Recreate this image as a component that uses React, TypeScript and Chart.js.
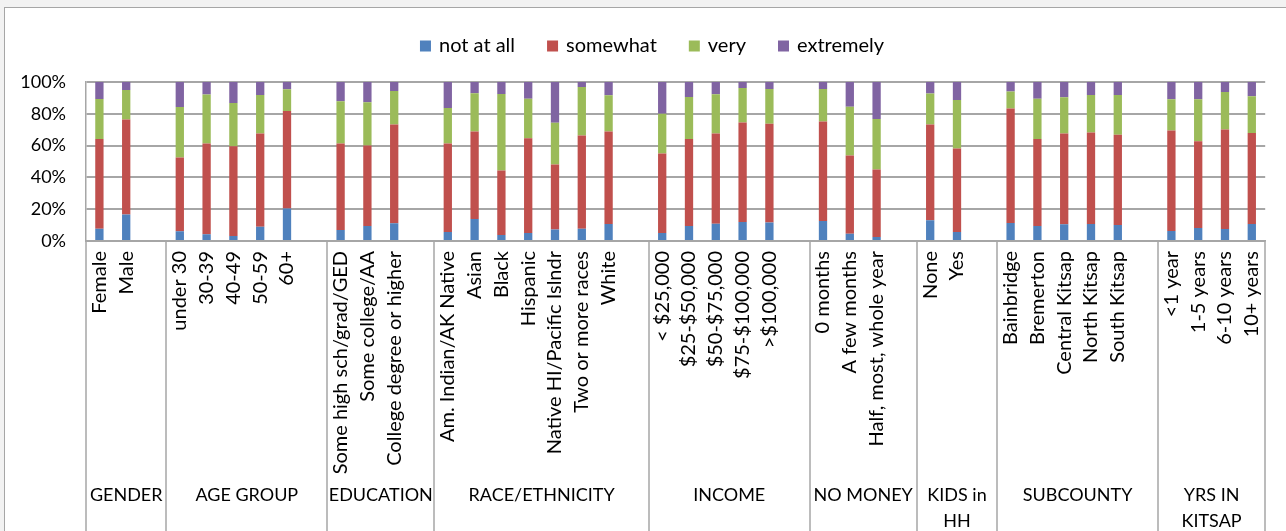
import React, { useEffect, useRef } from 'react';
import { Chart, registerables } from 'chart.js';

Chart.register(...registerables);

// ---------- data ----------
const categories: string[] = [
  'Female', 'Male', '',
  'under 30', '30-39', '40-49', '50-59', '60+', '',
  'Some high sch/grad/GED', 'Some college/AA', 'College degree or higher', '',
  'Am. Indian/AK Native', 'Asian', 'Black', 'Hispanic', 'Native HI/Pacific Islndr', 'Two or more races', 'White', '',
  '< $25,000', '$25-$50,000', '$50-$75,000', '$75-$100,000', '>$100,000', '',
  '0 months', 'A few months', 'Half, most, whole year', '',
  'None', 'Yes', '',
  'Bainbridge', 'Bremerton', 'Central Kitsap', 'North Kitsap', 'South Kitsap', '',
  '<1 year', '1-5 years', '6-10 years', '10+ years',
];

const groupNames: string[][] = [
  ['GENDER'], ['AGE GROUP'], ['EDUCATION'], ['RACE/ETHNICITY'], ['INCOME'],
  ['NO MONEY'], ['KIDS in', 'HH'], ['SUBCOUNTY'], ['YRS IN', 'KITSAP'],
];
const groupSizes: number[] = [3, 6, 4, 8, 6, 4, 3, 6, 4];

const seriesNames: string[] = ['not at all', 'somewhat', 'very', 'extremely'];

const notAtAll: (number | null)[] = [
  7.7, 16.7, null,
  6.1, 4.2, 3.1, 9.0, 20.5, null,
  6.9, 9.4, 11.1, null,
  5.6, 13.8, 3.8, 5.0, 7.3, 7.7, 10.7, null,
  5.0, 9.4, 10.9, 11.9, 11.7, null,
  12.6, 4.6, 2.5, null,
  13.0, 5.6, null,
  11.3, 9.4, 10.5, 10.7, 10.0, null,
  6.3, 8.2, 7.5, 10.7,
];
const somewhat: (number | null)[] = [
  56.5, 59.7, null,
  46.4, 57.1, 56.5, 58.6, 61.3, null,
  54.4, 50.6, 62.1, null,
  55.7, 55.0, 40.6, 59.6, 40.8, 58.6, 58.1, null,
  50.0, 54.8, 56.7, 62.6, 62.1, null,
  62.5, 49.2, 42.5, null,
  60.2, 52.6, null,
  72.0, 54.8, 57.1, 57.5, 56.9, null,
  63.2, 54.6, 62.6, 57.3,
];
const very: (number | null)[] = [
  25.1, 18.6, null,
  31.8, 30.8, 27.2, 24.2, 13.6, null,
  26.6, 27.2, 21.2, null,
  22.4, 24.1, 48.1, 24.9, 26.2, 30.6, 22.8, null,
  25.1, 26.4, 24.7, 21.7, 21.8, null,
  20.5, 30.7, 31.8, null,
  19.5, 30.5, null,
  10.8, 25.3, 22.8, 23.6, 24.9, null,
  19.6, 26.3, 23.6, 23.0,
];
const extremely: (number | null)[] = [
  10.7, 5.0, null,
  15.7, 7.9, 13.2, 8.2, 4.6, null,
  12.1, 12.8, 5.6, null,
  16.3, 7.1, 7.5, 10.5, 25.7, 3.1, 8.4, null,
  19.9, 9.4, 7.7, 3.8, 4.4, null,
  4.4, 15.5, 23.2, null,
  7.3, 11.3, null,
  5.9, 10.5, 9.6, 8.2, 8.2, null,
  10.9, 10.9, 6.3, 9.0,
];

const yTicks: number[] = [0, 20, 40, 60, 80, 100];

// ---------- styles ----------
const COLORS = ['#4F81BD', '#C0504D', '#9BBB59', '#8064A2'];
const FONT_FAMILY = 'Lato, "Open Sans", sans-serif';
const GRID = '#a6a6a6';

const groupPlugin = {
  id: 'groupPlugin',
  afterDraw(chart: any) {
    const { ctx, chartArea } = chart;
    const xs = chart.scales.x;
    const H = chart.height;
    ctx.save();
    // separators
    ctx.strokeStyle = GRID;
    ctx.lineWidth = 1.5;
    let idx = 0;
    const bounds: number[] = [xs.getPixelForValue(-0.5)];
    groupSizes.forEach((s) => {
      idx += s;
      bounds.push(xs.getPixelForValue(idx - 0.5));
    });
    bounds.forEach((b) => {
      const x = Math.round(b);
      ctx.beginPath();
      ctx.moveTo(x, chartArea.bottom);
      ctx.lineTo(x, H);
      ctx.stroke();
    });
    // group labels
    ctx.fillStyle = '#000';
    ctx.font = `18px ${FONT_FAMILY}`;
    ctx.textAlign = 'center';
    ctx.textBaseline = 'middle';
    groupNames.forEach((lines, i) => {
      const cx = (bounds[i] + bounds[i + 1]) / 2;
      lines.forEach((ln, j) => {
        ctx.fillText(ln, cx, 495 + j * 26);
      });
    });
    // legend
    ctx.font = `20px ${FONT_FAMILY}`;
    const gapBox = 8;
    const gapItem = 32;
    const box = 11;
    const widths = chart.data.datasets.map((d: any) => ctx.measureText(d.label).width);
    const total = widths.reduce((a: number, w: number) => a + box + gapBox + w, 0) + gapItem * (widths.length - 1);
    let x = 652 - total / 2;
    const cy = 46;
    ctx.textAlign = 'left';
    chart.data.datasets.forEach((d: any, i: number) => {
      ctx.fillStyle = d.backgroundColor;
      ctx.fillRect(x, cy - box / 2, box, box);
      x += box + gapBox;
      ctx.fillStyle = '#000';
      ctx.fillText(d.label, x, cy);
      x += widths[i] + gapItem;
    });
    ctx.restore();
  },
};

export default function App() {
  const ref = useRef<HTMLCanvasElement>(null);
  useEffect(() => {
    if (!ref.current) return;
    const seriesData = [notAtAll, somewhat, very, extremely];
    const chart = new Chart(ref.current, {
      type: 'bar',
      data: {
        labels: categories,
        datasets: seriesNames.map((n, i) => ({
          label: n,
          data: seriesData[i],
          backgroundColor: COLORS[i],
          borderWidth: 0,
          barPercentage: 0.31,
          categoryPercentage: 1,
        })),
      },
      options: {
        responsive: false,
        animation: false,
        devicePixelRatio: 1,
        layout: { padding: { top: 82, right: 18, left: 0, bottom: 0 } },
        plugins: {
          legend: { display: false },
          tooltip: { enabled: false },
        },
        scales: {
          x: {
            stacked: true,
            offset: true,
            grid: { display: false, drawTicks: false },
            border: { display: true, color: GRID, width: 1.5 },
            ticks: {
              autoSkip: false,
              maxRotation: 90,
              minRotation: 90,
              padding: 10,
              color: '#000',
              font: { family: FONT_FAMILY, size: 20 },
            },
            afterFit: (s: any) => { s.height = 290; },
          },
          y: {
            stacked: true,
            min: 0,
            max: 100,
            afterBuildTicks: (s: any) => { s.ticks = yTicks.map((v) => ({ value: v })); },
            grid: { color: GRID, lineWidth: 2, drawTicks: false },
            border: { display: true, color: GRID, width: 1.5 },
            ticks: {
              padding: 20,
              color: '#000',
              font: { family: FONT_FAMILY, size: 18 },
              callback: (v: any) => `${v}%`,
            },
            afterFit: (s: any) => { s.width = 86; },
          },
        },
      },
      plugins: [groupPlugin],
    });
    return () => chart.destroy();
  }, []);

  return (
    <div style={{ position: 'fixed', left: 0, top: 0, width: 1286, height: 531, background: '#f2f2f2', overflow: 'hidden' }}>
      <div style={{ position: 'absolute', left: 4, top: 7, width: 1300, height: 540, background: '#fff', border: '1px solid #a6a6a6', boxSizing: 'border-box' }} />
      <canvas ref={ref} width={1286} height={531} style={{ position: 'absolute', left: 0, top: 0, width: 1286, height: 531 }} />
    </div>
  );
}
